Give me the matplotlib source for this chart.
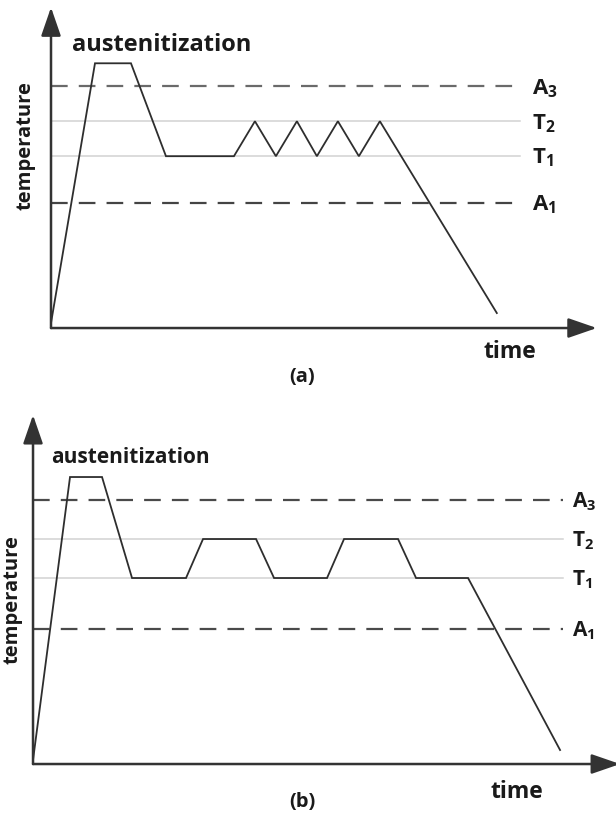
import matplotlib
matplotlib.use('Agg')
import matplotlib.pyplot as plt

plt.rcParams['font.family'] = ['Open Sans', 'DejaVu Sans']
plt.rcParams['mathtext.fontset'] = 'custom'
plt.rcParams['mathtext.rm'] = 'Open Sans:bold'
plt.rcParams['mathtext.bf'] = 'Open Sans:bold'
plt.rcParams['lines.scale_dashes'] = False

# panel (a): austenitize, quench to T1, then cycle T1 <-> T2 (triangular)
time_a = [0, 4.4, 8.0, 11.5, 18.3, 20.4, 22.5, 24.6, 26.6, 28.7, 30.8, 32.9, 44.6]
temp_a = [0.5, 26.5, 26.5, 17.2, 17.2, 20.7, 17.2, 20.7, 17.2, 20.7, 17.2, 20.7, 1.5]
level_names = ['A$_3$', 'T$_2$', 'T$_1$', 'A$_1$']
levels_a = [24.2, 20.7, 17.2, 12.5]

# panel (b): same start, cycles with holds at T2 and T1
time_b = [0, 3.7, 6.9, 9.9, 15.3, 17.0, 22.3, 24.1, 29.4, 31.1, 36.5, 38.3, 43.5, 52.7]
temp_b = [0.4, 28.7, 28.7, 18.6, 18.6, 22.5, 22.5, 18.6, 18.6, 22.5, 22.5, 18.6, 18.6, 1.4]
levels_b = [26.4, 22.5, 18.6, 13.5]

level_styles = ['dash', 'solid', 'solid', 'dash']

fig = plt.figure(figsize=(6.16, 8.16), dpi=100)
ax_a = fig.add_axes([0.0828, 0.598, 0.886, 0.393])
ax_b = fig.add_axes([0.0536, 0.0637, 0.953, 0.4277])


def draw_panel(ax, t, T, levels, xmax, ymax, line_end, lab_x, dash_cols, aust_xy,
               time_xy, tag, tag_xy, ylab_xy, aust_size, lab_size):
    ax.set_xlim(0, xmax)
    ax.set_ylim(0, ymax)
    ax.axis('off')
    for lev, name, sty, dc in zip(levels, level_names, level_styles, dash_cols):
        if sty == 'dash':
            ax.plot([0, line_end], [lev, lev], color=dc, lw=1.6, dashes=(12, 8))
        else:
            ax.plot([0, line_end], [lev, lev], color='#d2d2d2', lw=1.1)
        ax.text(lab_x, lev - 0.2, name, fontsize=lab_size, fontweight='bold', va='center',
                ha='left', color='#1a1a1a')
    ax.plot(t, T, color='#2e2e2e', lw=1.3, solid_joinstyle='miter')
    # axes with arrows
    arr = dict(arrowstyle='-|>,head_length=1.1,head_width=0.38', color='#333333',
               lw=1.8, mutation_scale=16, shrinkA=0, shrinkB=0)
    ax.annotate('', xy=(1, 0), xytext=(0, 0), xycoords='axes fraction',
                arrowprops=arr, annotation_clip=False)
    ax.annotate('', xy=(0, 1), xytext=(0, 0), xycoords='axes fraction',
                arrowprops=arr, annotation_clip=False)
    ax.text(aust_xy[0], aust_xy[1], 'austenitization', fontsize=aust_size, fontweight='bold',
            ha='left', va='center', color='#1a1a1a')
    ax.text(time_xy[0], time_xy[1], 'time', fontsize=16.5, fontweight='bold',
            ha='center', va='center', color='#1a1a1a', clip_on=False)
    ax.text(tag_xy[0], tag_xy[1], tag, fontsize=14.5, fontweight='bold',
            ha='center', va='center', color='#1a1a1a', clip_on=False)
    ax.text(ylab_xy[0], ylab_xy[1], 'temperature', fontsize=14.5, fontweight='bold',
            rotation=90, ha='center', va='center', color='#1a1a1a', clip_on=False)


draw_panel(ax_a, time_a, temp_a, levels_a, 54.6, 32.1, 46.9, 48.1,
           ['#6a6a6a', '#6a6a6a', '#6a6a6a', '#444444'], (2.1, 28.3),
           (45.9, -2.4), '(a)', (25.1, -4.9), (-2.6, 18.3), 17, 16)
draw_panel(ax_b, time_b, temp_b, levels_b, 58.7, 34.9, 53.0, 53.9,
           ['#4a4a4a', '#4a4a4a', '#4a4a4a', '#4a4a4a'], (1.8, 30.7),
           (48.4, -2.8), '(b)', (26.9, -3.8), (-2.1, 16.4), 15, 15)

fig.savefig('out.png', dpi=100)
